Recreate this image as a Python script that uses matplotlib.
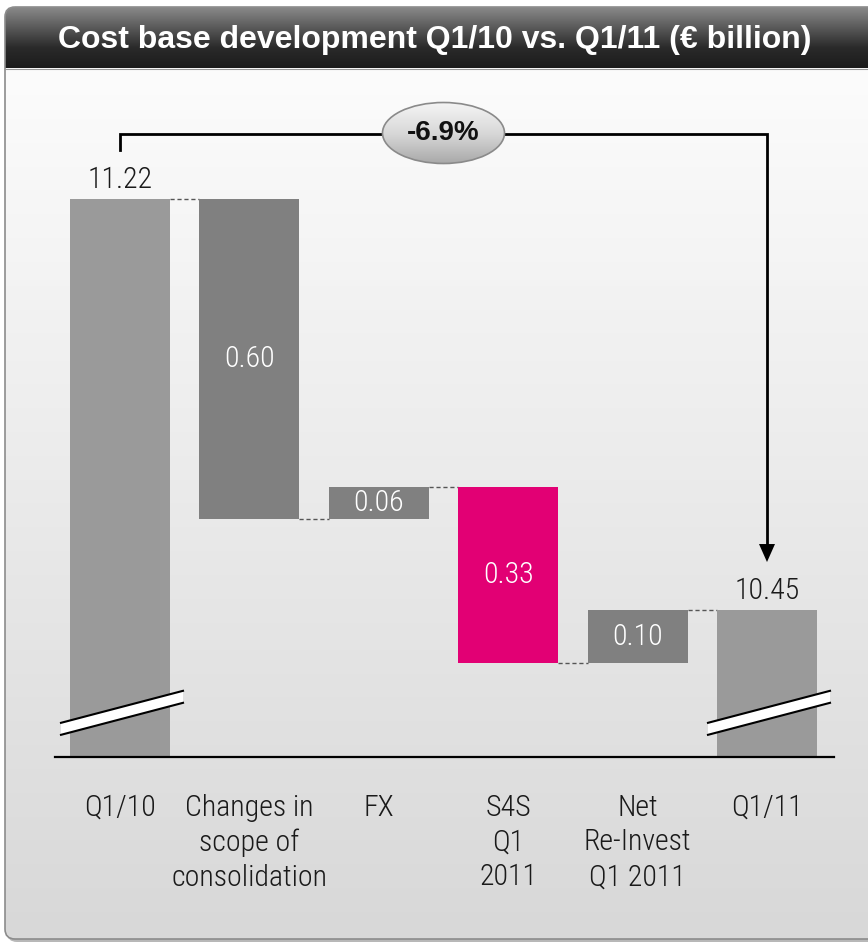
import numpy as np
import matplotlib.pyplot as plt
from matplotlib import font_manager
from matplotlib.patches import FancyBboxPatch, Ellipse, Polygon
from matplotlib.colors import LinearSegmentedColormap

# data
categories = ["Q1/10", "Changes in\nscope of\nconsolidation", "FX",
              "S4S\nQ1\n2011", "Net\nRe-Invest\nQ1 2011", "Q1/11"]
start_value = 11.22
deltas = [-0.60, 0.06, -0.33, 0.10]
end_value = 10.45
change_label = "-6.9%"
title = "Cost base development Q1/10 vs. Q1/11 (\u20ac billion)"
axis_floor = 10.175   # where the broken axis is cut

names = {f.name for f in font_manager.fontManager.ttflist}
def pick(*cands):
    for c in cands:
        if c in names:
            return c
    return "DejaVu Sans"

font = pick("Liberation Sans Narrow", "Roboto Condensed", "Liberation Sans", "Roboto")
bold_font = pick("Liberation Sans", "Arial", "Roboto")
plt.rcParams['font.family'] = [font, 'DejaVu Sans']
lw_text = 'light'

W, H = 868, 944
fig = plt.figure(figsize=(W / 100, H / 100), dpi=100)
fig.patch.set_facecolor('white')

# background panel in pixel coords
bg = fig.add_axes([0, 0, 1, 1])
bg.set_xlim(0, W)
bg.set_ylim(H, 0)
bg.axis('off')

shadow = FancyBboxPatch((7, 11), 900, 931, boxstyle="round,pad=0,rounding_size=10",
                        fc='#b8b8b8', ec='none')
bg.add_patch(shadow)
panel = FancyBboxPatch((5, 7), 900, 932, boxstyle="round,pad=0,rounding_size=10",
                       fc='none', ec='none')
bg.add_patch(panel)

body_cmap = LinearSegmentedColormap.from_list('body', ['#fcfcfc', '#d8d8d8'])
im = bg.imshow(np.linspace(0, 1, 256)[:, None], cmap=body_cmap, aspect='auto',
               extent=(5, 905, 939, 68), zorder=1)
im.set_clip_path(panel)
head_cmap = LinearSegmentedColormap.from_list('head', ['#8a8a8a', '#5a5a5a', '#2a2a2a', '#1c1c1c'])
im2 = bg.imshow(np.linspace(0, 1, 256)[:, None], cmap=head_cmap, aspect='auto',
                extent=(5, 905, 68, 7), zorder=1)
im2.set_clip_path(panel)
border = FancyBboxPatch((5, 7), 900, 932, boxstyle="round,pad=0,rounding_size=10",
                        fc='none', ec='#8c8c8c', lw=1.2, zorder=2)
bg.add_patch(border)
bg.plot([5, 905], [68.5, 68.5], color='#9a9a9a', lw=0.8, zorder=2)

bg.text(435, 40, title, color='white', fontsize=23, fontweight='bold',
        family=[bold_font, 'DejaVu Sans'], ha='center', va='center', zorder=3)

# chart axes (data coords mapped onto the figure)
ax = fig.add_axes([0, 0, 1, 1])
ax.patch.set_alpha(0)
ax.axis('off')
px_x = 129.4
px_y = 533.8
ax.set_xlim(-120 / px_x, (W - 120) / px_x)
ax.set_ylim(start_value - (H - 199) / px_y, start_value + 199 / px_y)

levels = [start_value]
for d in deltas:
    levels.append(levels[-1] + d)

n = len(categories)
x = np.arange(n)
bw = 100 / px_x
total_color = '#9a9a9a'
step_color = '#808080'
magenta = '#e20074'

# total bars
for i, v in ((0, start_value), (n - 1, end_value)):
    ax.bar(i, v - axis_floor, bottom=axis_floor, width=bw, color=total_color, zorder=2)
    ax.annotate(f"{v:.2f}", (i, v), xytext=(0, 8), textcoords='offset points',
                ha='center', va='baseline', fontsize=21.5, color='#1a1a1a',
                fontweight=lw_text)

# step bars
for k, d in enumerate(deltas):
    i = k + 1
    lo = min(levels[k], levels[k + 1])
    col = magenta if categories[i].startswith("S4S") else step_color
    ax.bar(i, abs(d), bottom=lo, width=bw, color=col, zorder=2)
    ax.text(i, lo + abs(d) / 2, f"{abs(d):.2f}", ha='center', va='center',
            fontsize=21.5, color='white', fontweight=lw_text, zorder=3)

# dashed connectors
for i in range(n - 1):
    lvl = levels[i] if i < len(levels) else end_value
    ax.plot([i + bw / 2, i + 1 - bw / 2], [lvl, lvl], color='#555555', lw=1,
            ls=(0, (3, 2)), zorder=1)

# baseline
ax.plot([-65 / px_x, n - 1 + 67 / px_x], [axis_floor, axis_floor], color='black',
        lw=1.6, zorder=3)

# axis break marks
for i in (0, n - 1):
    x0 = i - bw / 2 - 9 / px_x
    x1 = i + bw / 2 + 13 / px_x
    b0 = axis_floor + 22 / px_y
    b1 = axis_floor + 54 / px_y
    t = 12 / px_y
    ax.add_patch(Polygon([(x0, b0), (x1, b1), (x1, b1 + t), (x0, b0 + t)],
                         closed=True, fc='white', ec='none', zorder=4))
    ax.plot([x0, x1], [b0, b1], color='black', lw=1.5, zorder=5)
    ax.plot([x0, x1], [b0 + t, b1 + t], color='black', lw=1.5, zorder=5)

# category labels
for i, c in enumerate(categories):
    ax.annotate(c, (i, axis_floor), xytext=(0, -26.5), textcoords='offset points',
                ha='center', va='top', fontsize=21.5, color='#1a1a1a',
                fontweight=lw_text, linespacing=1.31)

# bracket with arrow
top = start_value + 65 / px_y
tip = end_value + 48 / px_y
ax.plot([0, 0, n - 1, n - 1], [start_value + 49 / px_y, top, top, tip + 15 / px_y],
        color='black', lw=2, solid_joinstyle='miter', zorder=3)
ax.add_patch(Polygon([(n - 1 - 8 / px_x, tip + 18 / px_y), (n - 1 + 8 / px_x, tip + 18 / px_y),
                      (n - 1, tip)], closed=True, fc='black', ec='none', zorder=3))

# ellipse label
cx = (n - 1) / 2
ew, eh = 122 / px_x, 61 / px_y
ell = Ellipse((cx, top + 1 / px_y), ew, eh, fc='none', ec='none', zorder=4)
ax.add_patch(ell)
ell_cmap = LinearSegmentedColormap.from_list('ell', ['#a8a8a8', '#d8d8d8', '#f4f4f4'])
im3 = ax.imshow(np.linspace(0, 1, 256)[:, None], cmap=ell_cmap, aspect='auto',
                extent=(cx - ew / 2, cx + ew / 2, top - eh / 2, top + eh / 2),
                origin='lower', zorder=4)
im3.set_clip_path(ell)
ax.add_patch(Ellipse((cx, top + 1 / px_y), ew, eh, fc='none', ec='#8a8a8a', lw=1.2, zorder=5))
ax.text(cx, top + 1 / px_y, change_label, ha='center', va='center', fontsize=20,
        fontweight='bold', family=[bold_font, 'DejaVu Sans'], color='#111111', zorder=6)

ax.set_xlim(-120 / px_x, (W - 120) / px_x)
ax.set_ylim(start_value - (H - 199) / px_y, start_value + 199 / px_y)

fig.savefig("out.png", dpi=100)
